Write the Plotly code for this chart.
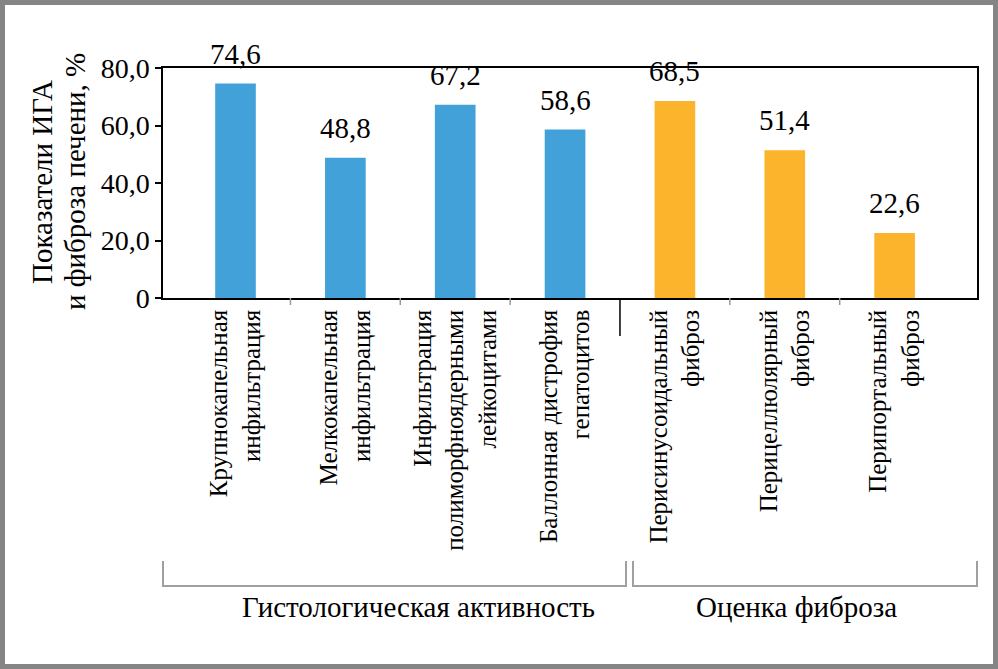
import plotly.graph_objects as go

categories = [
    "Крупнокапельная<br>инфильтрация",
    "Мелкокапельная<br>инфильтрация",
    "Инфильтрация<br>полиморфноядерными<br>лейкоцитами",
    "Баллонная дистрофия<br>гепатоцитов",
    "Перисинусоидальный<br>фиброз",
    "Перицеллюлярный<br>фиброз",
    "Перипортальный<br>фиброз",
]
values = [74.6, 48.8, 67.2, 58.6, 68.5, 51.4, 22.6]
groups = ["hist", "hist", "hist", "hist", "fib", "fib", "fib"]
group_names = {"hist": "Гистологическая активность", "fib": "Оценка фиброза"}
group_colors = {"hist": "#42A1D9", "fib": "#FBB42B"}
y_ticks = [0, 20, 40, 60, 80]
y_ticktext = ["0", "20,0", "40,0", "60,0", "80,0"]
y_title_lines = ["Показатели ИГА", "и фиброза печени, %"]

W, H = 998, 669
L, R, T, B = 163, 21, 68, 371
PW, PH = W - L - R, H - T - B


def px(x):
    return (x - L) / PW


def py(y):
    return (H - B - y) / PH


FONT = "Liberation Serif, Times New Roman, serif"
x_idx = list(range(len(categories)))

fig = go.Figure()
fig.add_trace(go.Bar(
    x=x_idx,
    y=values,
    width=0.37,
    marker=dict(color=[group_colors[g] for g in groups], line=dict(width=0)),
    hoverinfo="skip",
))

annotations = []
for i, v in zip(x_idx, values):
    annotations.append(dict(x=i, y=v, xref="x", yref="y",
                            text=f"{v:.1f}".replace(".", ","), showarrow=False,
                            yanchor="bottom", yshift=12,
                            font=dict(family=FONT, size=29, color="black")))

shapes = []
# frame border
shapes.append(dict(type="rect", xref="paper", yref="paper",
                   x0=px(2.5), x1=px(W - 2.5), y0=py(2.5), y1=py(H - 2.5),
                   line=dict(color="#858585", width=5), layer="below"))
# category boundary ticks
split = groups.index("fib") - 0.5
for i in range(len(categories) - 1):
    b = i + 0.5
    if b == split:
        shapes.append(dict(type="line", xref="x", yref="paper", x0=b, x1=b,
                           y0=0, y1=py(336), line=dict(color="black", width=1.5)))
    else:
        shapes.append(dict(type="line", xref="x", yref="paper", x0=b, x1=b,
                           y0=0, y1=py(305), line=dict(color="#999999", width=1.5)))
# group brackets
brackets = [(163, 626, "hist"), (633, 977, "fib")]
for x0, x1, g in brackets:
    shapes.append(dict(type="path", xref="paper", yref="paper",
                       path=f"M {px(x0)} {py(561)} L {px(x0)} {py(586)} L {px(x1)} {py(586)} L {px(x1)} {py(561)}",
                       line=dict(color="#A0A0A0", width=2)))
for g, cx in [("hist", 418), ("fib", 796)]:
    annotations.append(dict(xref="paper", yref="paper", x=px(cx), y=py(607),
                            text=group_names[g], showarrow=False,
                            font=dict(family=FONT, size=29, color="black"),
                            xanchor="center", yanchor="middle"))
# y-axis title (two lines)
for line, cx in zip(y_title_lines, [42, 75]):
    annotations.append(dict(xref="paper", yref="paper", x=px(cx), y=py(182),
                            text=line, textangle=-90, showarrow=False,
                            font=dict(family=FONT, size=29, color="black"),
                            xanchor="center", yanchor="middle"))

fig.update_layout(
    width=W, height=H,
    margin=dict(l=L, r=R, t=T, b=B, pad=0),
    paper_bgcolor="white", plot_bgcolor="white",
    showlegend=False,
    font=dict(family=FONT, color="black"),
    shapes=shapes,
    annotations=annotations,
    xaxis=dict(
        range=[-0.66, 6.75],
        tickmode="array", tickvals=x_idx, ticktext=categories,
        tickangle=-90, ticks="",
        tickfont=dict(family=FONT, size=25, color="black"),
        showline=True, linecolor="black", linewidth=1.5, mirror=True,
        showgrid=False, zeroline=False, fixedrange=True,
    ),
    yaxis=dict(
        range=[0, 80],
        tickmode="array", tickvals=y_ticks, ticktext=y_ticktext,
        ticks="outside", ticklen=6, tickcolor="black", tickwidth=1.5,
        tickfont=dict(family=FONT, size=28, color="black"),
        showline=True, linecolor="black", linewidth=1.5, mirror=True,
        showgrid=False, zeroline=False, fixedrange=True,
    ),
)

fig.write_html("out.html", config={"displayModeBar": False},
               post_script="document.body.style.margin='0';")
